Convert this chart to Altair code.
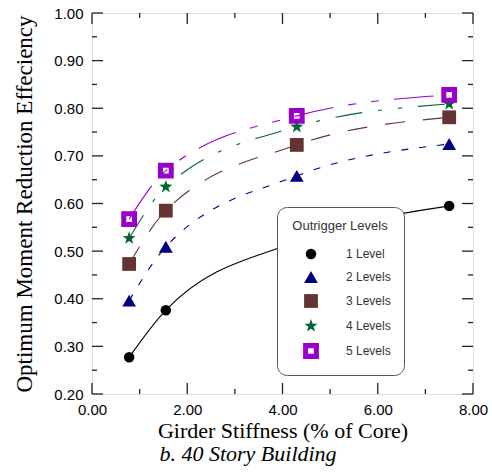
import altair as alt
import pandas as pd

# ---- data ----
stiffness = [0.78, 1.55, 4.30, 7.50]
series_names = ["1 Level", "2 Levels", "3 Levels", "4 Levels", "5 Levels"]
level1 = [0.277, 0.376, 0.520, 0.595]
level2 = [0.396, 0.509, 0.658, 0.725]
level3 = [0.473, 0.585, 0.723, 0.781]
level4 = [0.527, 0.635, 0.761, 0.809]
level5 = [0.567, 0.669, 0.784, 0.828]

x_major = [0, 2, 4, 6, 8]
x_minor = [1, 3, 5, 7]
y_major = [0.2, 0.3, 0.4, 0.5, 0.6, 0.7, 0.8, 0.9, 1.0]
y_minor = [0.25, 0.35, 0.45, 0.55, 0.65, 0.75, 0.85, 0.95]
subtitle = ["b. 40 Story Building"]

rows = []
for name, vals in zip(series_names, [level1, level2, level3, level4, level5]):
    for xv, yv in zip(stiffness, vals):
        rows.append({"series": name, "x": xv, "y": yv})
df = pd.DataFrame(rows)

W, H = 381, 381
colors = ["#000000", "#000080", "#663333", "#006633", "#9900CC"]
star = ("M0,-1L0.235,-0.324L0.951,-0.309L0.380,0.124L0.588,0.809L0,0.4"
        "L-0.588,0.809L-0.380,0.124L-0.951,-0.309L-0.235,-0.324Z")
ring = ("M-1,-1L1,-1L1,1L-1,1Z"
        "M-0.36,-0.36L-0.36,0.36L0.36,0.36L0.36,-0.36Z")
shapes = ["circle", "triangle-up", "square", star, ring]
sizes = [110, 190, 190, 190, 250]
dashes = [None, [7, 11], [20, 18], [27, 16, 4, 16, 4, 16], [40, 15, 8, 15, 8, 15]]

xscale = alt.Scale(domain=[0, 8], nice=False, zero=False)
yscale = alt.Scale(domain=[0.2, 1.0], nice=False, zero=False)

legend = alt.Legend(
    orient="none", legendX=185, legendY=194,
    title="Outrigger Levels",
    titleFont="Liberation Sans", titleFontSize=13, titleFontWeight="normal",
    titleColor="#333333", titleAnchor="middle", titlePadding=15,
    labelFont="Liberation Sans", labelFontSize=12, labelColor="#333333",
    padding=13, fillColor="white", strokeColor="#555555", cornerRadius=10,
    rowPadding=5, symbolOffset=12, labelOffset=26,
)

xax = alt.Axis(
    values=x_major, format=".2f", grid=False, ticks=False, tickSize=0, domain=False,
    labelFlush=False,
    labelFont="Liberation Sans", labelFontSize=15, labelColor="black", labelPadding=8,
    title="Girder Stiffness (% of Core)", titleFont="Liberation Serif", titleFontSize=22,
    titleFontWeight="normal", titleColor="black", titleX=W / 2, titleY=43,
    titleBaseline="alphabetic", titleAlign="center",
)
yax = alt.Axis(
    values=y_major, format=".2f", grid=False, ticks=False, tickSize=0, domain=False,
    labelFont="Liberation Sans", labelFontSize=15, labelColor="black", labelPadding=9,
    title="Optimum Moment Reduction Effeciency", titleFont="Liberation Serif",
    titleFontSize=23, titleFontWeight="normal", titleColor="black",
    titleX=-68, titleY=H / 2, titleAngle=270, titleBaseline="middle", titleAlign="center",
)

base = alt.Chart(df)

line_layers = []
for name, col, dash in zip(series_names, colors, dashes):
    props = dict(interpolate="monotone", strokeWidth=1.1, color=col)
    if dash is not None:
        props["strokeDash"] = dash
    line_layers.append(
        base.transform_filter(alt.datum.series == name).mark_line(**props).encode(
            x=alt.X("x:Q", scale=xscale, axis=xax),
            y=alt.Y("y:Q", scale=yscale, axis=yax),
        )
    )

def ordinal(rng):
    return alt.Scale(type="ordinal", domain=series_names, range=rng)

points = base.mark_point(filled=True, opacity=1, strokeWidth=0).encode(
    x=alt.X("x:Q", scale=xscale, axis=xax),
    y=alt.Y("y:Q", scale=yscale, axis=yax),
    fill=alt.Fill("series:N", scale=ordinal(colors), legend=legend),
    shape=alt.Shape("series:N", scale=ordinal(shapes), legend=legend),
    size=alt.Size("series:N", scale=ordinal(sizes), legend=legend),
    order=alt.Order("series:N"),
)

tick_color = "#222222"
xmaj = pd.DataFrame({"x": x_major})
xmin = pd.DataFrame({"x": x_minor})
ymaj = pd.DataFrame({"y": y_major})
ymin = pd.DataFrame({"y": y_minor})

def xticks(d, length):
    bottom = alt.Chart(d).mark_rule(color=tick_color, strokeWidth=1.3).encode(
        x=alt.X("x:Q", scale=xscale, axis=xax), y=alt.value(H), y2=alt.value(H - length))
    top = alt.Chart(d).mark_rule(color=tick_color, strokeWidth=1.3).encode(
        x=alt.X("x:Q", scale=xscale, axis=xax), y=alt.value(0), y2=alt.value(length))
    return [bottom, top]

def yticks(d, length):
    left = alt.Chart(d).mark_rule(color=tick_color, strokeWidth=1.3).encode(
        y=alt.Y("y:Q", scale=yscale, axis=yax), x=alt.value(0), x2=alt.value(length))
    right = alt.Chart(d).mark_rule(color=tick_color, strokeWidth=1.3).encode(
        y=alt.Y("y:Q", scale=yscale, axis=yax), x=alt.value(W), x2=alt.value(W - length))
    return [left, right]

tick_layers = xticks(xmaj, 11) + xticks(xmin, 5) + yticks(ymaj, 11) + yticks(ymin, 5)

sub = alt.Chart(pd.DataFrame({"t": subtitle})).mark_text(
    font="Liberation Serif", fontSize=22, fontStyle="italic", color="black",
    align="center", baseline="alphabetic",
).encode(text="t:N", x=alt.value(156), y=alt.value(448))

chart = alt.layer(*line_layers, points, *tick_layers, sub).properties(
    width=W, height=H,
    autosize=alt.AutoSizeParams(type="none"),
    padding={"left": 92, "top": 13, "right": 19, "bottom": 81},
).configure_view(stroke="#222222", strokeWidth=1.6).configure(background="white")

chart.save("out.html", embed_options={"renderer": "svg", "actions": False})
